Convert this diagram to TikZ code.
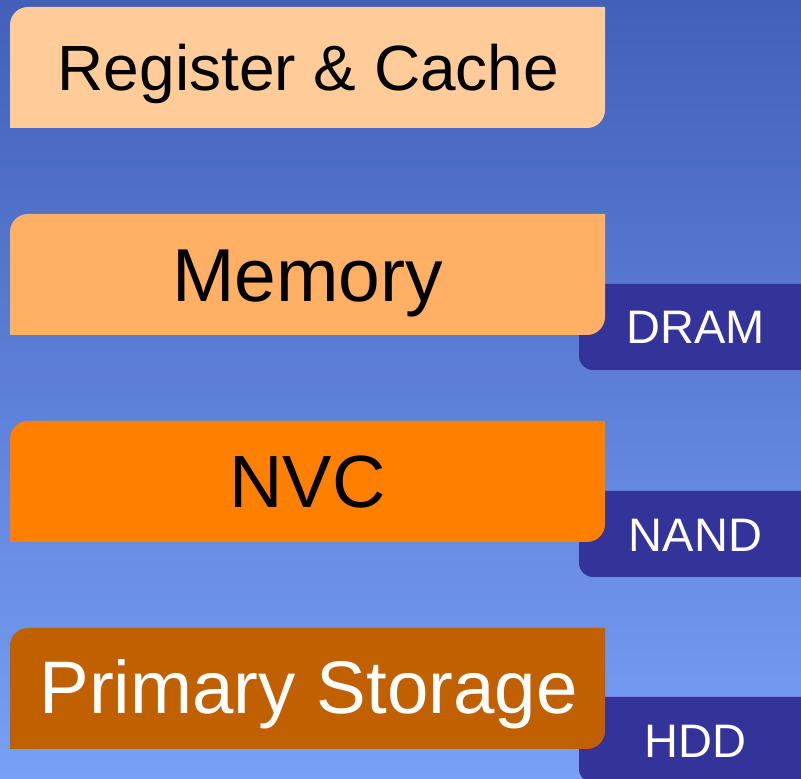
\documentclass[tikz,border=0pt]{standalone}
\usepackage{fontspec}
\setmainfont{Liberation Sans}
\definecolor{bgtop}{RGB}{66,96,184}
\definecolor{bgbot}{RGB}{120,160,245}
\definecolor{tabc}{RGB}{51,51,153}
\definecolor{c1}{RGB}{255,204,153}
\definecolor{c2}{RGB}{255,176,100}
\definecolor{c3}{RGB}{255,128,0}
\definecolor{c4}{RGB}{192,96,0}
\newcommand{\lvlbox}[4]{% color, top Y, bottom Y, name
  \fill[#1] (10,#3) -- (10,#2-18) arc[start angle=180,end angle=90,radius=18] -- (605,#2) -- (605,#3+18) arc[start angle=0,end angle=-90,radius=18] -- cycle;
  \coordinate (#4) at (307.5,{(#2+#3)/2});
}
\newcommand{\tabbox}[3]{% top Y, bottom Y, name
  \fill[tabc] (579,#1) -- (579,#2+14) arc[start angle=180,end angle=270,radius=14] -- (820,#2) -- (820,#1) -- cycle;
  \coordinate (#3) at (695,{(#1+#2)/2});
}
\tikzset{
  lbl/.style={inner sep=0pt, anchor=base},
  tablbl/.style={inner sep=0pt, anchor=base, text=white, font=\fontsize{47}{50}\selectfont},
}
\begin{document}
\begin{tikzpicture}[x=1pt,y=1pt]
\useasboundingbox (0,0) rectangle (801,779);
\begin{scope}
\clip (0,0) rectangle (801,779);
\shade[top color=bgtop, bottom color=bgbot] (0,0) rectangle (801,779);
\tabbox{495}{409}{tdram}
\tabbox{288}{202}{tnand}
\tabbox{82}{-4}{thdd}
\lvlbox{c1}{772}{651}{b1}
\lvlbox{c2}{565}{444}{b2}
\lvlbox{c3}{358}{237}{b3}
\lvlbox{c4}{151}{30}{b4}
\end{scope}
\node[lbl, font=\fontsize{64}{70}\selectfont] (reg) at (308.5,688) {Register \& Cache};
\node[lbl, font=\fontsize{75}{80}\selectfont] (mem) at (307.5,477) {Memory};
\node[lbl, font=\fontsize{74}{80}\selectfont] (nvc) at (307.5,271) {NVC};
\node[lbl, text=white, font=\fontsize{74.5}{80}\selectfont] (ps) at (308.5,65) {Primary Storage};
\node[tablbl] (dram) at (695.5,435) {DRAM};
\node[tablbl] (nand) at (695.5,227) {NAND};
\node[tablbl] (hdd) at (695.5,21) {HDD};
\end{tikzpicture}
\end{document}
